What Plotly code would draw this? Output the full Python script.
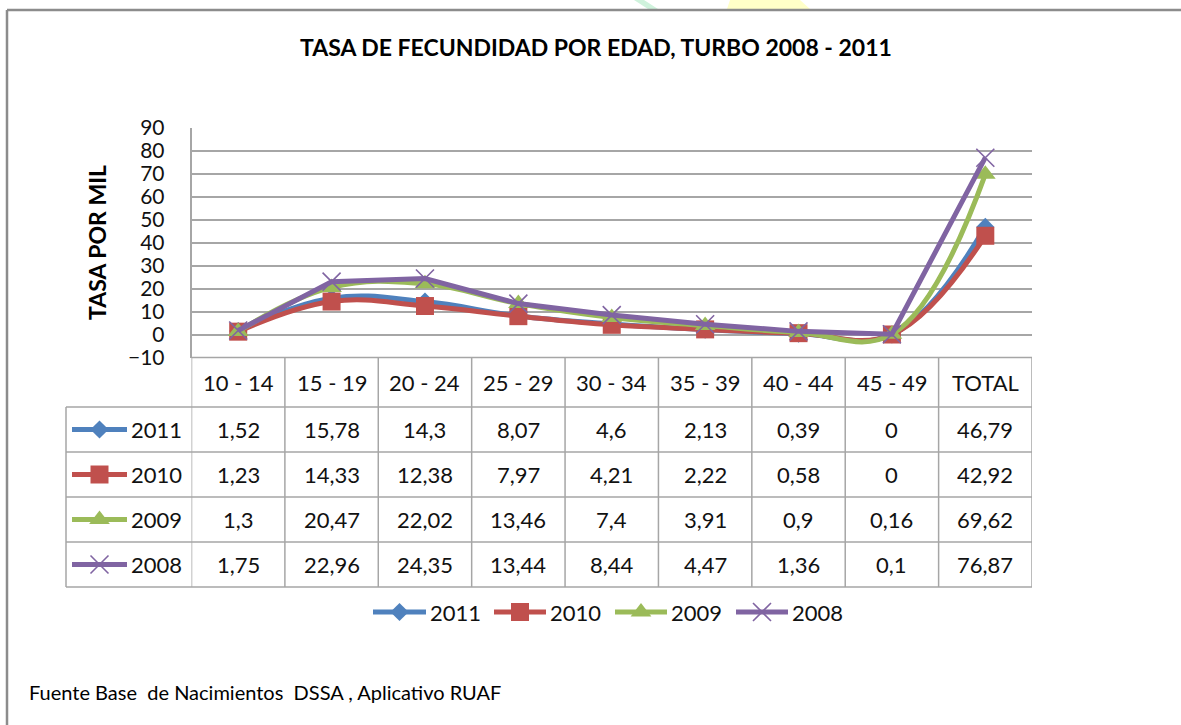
import plotly.graph_objects as go

# ---- data ----
age_groups = ["10 - 14", "15 - 19", "20 - 24", "25 - 29", "30 - 34",
              "35 - 39", "40 - 44", "45 - 49", "TOTAL"]
years = ["2011", "2010", "2009", "2008"]
rate_2011 = [1.52, 15.78, 14.3, 8.07, 4.6, 2.13, 0.39, 0, 46.79]
rate_2010 = [1.23, 14.33, 12.38, 7.97, 4.21, 2.22, 0.58, 0, 42.92]
rate_2009 = [1.3, 20.47, 22.02, 13.46, 7.4, 3.91, 0.9, 0.16, 69.62]
rate_2008 = [1.75, 22.96, 24.35, 13.44, 8.44, 4.47, 1.36, 0.1, 76.87]
y_ticks = list(range(-10, 100, 10))

title_text = "TASA DE FECUNDIDAD POR EDAD, TURBO 2008 - 2011"
y_title = "TASA POR MIL"
source_text = "Fuente Base  de Nacimientos  DSSA , Aplicativo RUAF"

series = [rate_2011, rate_2010, rate_2009, rate_2008]

# ---- styling ----
W, H = 1181, 725
FONT = "Lato"
GRID = "#A6A6A6"
styles = {
    "2011": dict(color="#4F81BD", symbol="diamond", size=14, mline=None, shape="spline"),
    "2010": dict(color="#C0504D", symbol="square", size=18, mline=None, shape="spline"),
    "2009": dict(color="#9BBB59", symbol="triangle-up", size=18, mline=None, shape="spline"),
    "2008": dict(color="#8064A2", symbol="x-thin-open", size=18, mline="#A898CC", shape="linear"),
}

# plot-area and table geometry (pixels)
PL, PR, PT, PB = 191.5, 1032.0, 127.5, 357.5
ROW_EDGES = [357.5, 407.0, 452.0, 497.0, 542.0, 587.0]
TABLE_LEFT = 66.0


def px(x):
    return x / W


def py(y):
    return 1 - y / H


def marker_style(st):
    m = dict(symbol=st["symbol"], size=st["size"], color=st["color"])
    if st["mline"]:
        m["line"] = dict(color=st["mline"], width=1.6)
    else:
        m["line"] = dict(color=st["color"], width=0)
    return m


fig = go.Figure()

# ---- rate lines ----
for yr, vals in zip(years, series):
    st = styles[yr]
    line = dict(color=st["color"], width=5, shape=st["shape"])
    if st["shape"] == "spline":
        line["smoothing"] = 1.15
    fig.add_trace(go.Scatter(
        x=age_groups, y=vals, name=yr, mode="lines+markers",
        line=line, marker=marker_style(st), showlegend=False, cliponaxis=False,
    ))


# ---- legend keys (table rows and bottom legend) on a pixel overlay ----
def add_key(yr, x0, x1, yc):
    st = styles[yr]
    xm = (x0 + x1) / 2
    fig.add_trace(go.Scatter(
        x=[x0, x1], y=[yc, yc], mode="lines", xaxis="x2", yaxis="y2",
        line=dict(color=st["color"], width=5), showlegend=False,
        hoverinfo="skip",
    ))
    fig.add_trace(go.Scatter(
        x=[xm], y=[yc], mode="markers", xaxis="x2", yaxis="y2",
        marker=marker_style(st), showlegend=False, hoverinfo="skip",
    ))


row_centers = [(ROW_EDGES[i] + ROW_EDGES[i + 1]) / 2 for i in range(len(ROW_EDGES) - 1)]
annotations = []
TXT = dict(family=FONT, size=22, color="#111111")

for i, yr in enumerate(years):
    yc = row_centers[i + 1]
    add_key(yr, 72, 127, yc)
    annotations.append(dict(
        text=yr, x=px(129), y=py(yc), xref="paper", yref="paper",
        xanchor="left", yanchor="middle", showarrow=False, font=TXT,
    ))

legend_keys = [(373, 426), (494, 546), (615, 667), (736, 788)]
LEG_Y = 612
for yr, (x0, x1) in zip(years, legend_keys):
    add_key(yr, x0, x1, LEG_Y)
    annotations.append(dict(
        text=yr, x=px(x1 + 2), y=py(LEG_Y), xref="paper", yref="paper",
        xanchor="left", yanchor="middle", showarrow=False, font=TXT,
    ))

# ---- table text ----
for j, cat in enumerate(age_groups):
    annotations.append(dict(
        text=cat, x=cat, y=py(row_centers[0]), xref="x", yref="paper",
        xanchor="center", yanchor="middle", showarrow=False, font=TXT,
    ))
for i, vals in enumerate(series):
    for j, v in enumerate(vals):
        label = f"{v:g}".replace(".", ",")
        annotations.append(dict(
            text=label, x=age_groups[j], y=py(row_centers[i + 1]),
            xref="x", yref="paper", xanchor="center", yanchor="middle",
            showarrow=False, font=TXT,
        ))

# titles and source
annotations.append(dict(
    text=f"<b>{title_text}</b>", x=px(596), y=py(47), xref="paper", yref="paper",
    xanchor="center", yanchor="middle", showarrow=False,
    font=dict(family=FONT, size=23, color="#000000"),
))
annotations.append(dict(
    text=f"<b>{y_title}</b>", x=px(97), y=py(243), xref="paper", yref="paper",
    xanchor="center", yanchor="middle", showarrow=False, textangle=-90,
    font=dict(family=FONT, size=23, color="#000000"),
))
annotations.append(dict(
    text=source_text, x=px(27), y=py(692), xref="paper", yref="paper",
    xanchor="left", yanchor="middle", showarrow=False,
    font=dict(family=FONT, size=20, color="#000000"),
))

# ---- table grid lines ----
shapes = []
line_style = dict(color=GRID, width=1.5)
for k, ye in enumerate(ROW_EDGES):
    x0 = PL if k == 0 else TABLE_LEFT
    shapes.append(dict(type="line", xref="paper", yref="paper",
                       x0=px(x0), x1=px(PR), y0=py(ye), y1=py(ye), line=line_style))
for j in range(len(age_groups) + 1):
    shapes.append(dict(type="line", xref="x", yref="paper",
                       x0=j - 0.5, x1=j - 0.5, y0=py(ROW_EDGES[0]), y1=py(ROW_EDGES[-1]),
                       line=line_style))
shapes.append(dict(type="line", xref="paper", yref="paper",
                   x0=px(TABLE_LEFT), x1=px(TABLE_LEFT),
                   y0=py(ROW_EDGES[1]), y1=py(ROW_EDGES[-1]), line=line_style))

# outer frame of the chart object
FRAME = "#8C8C8C"
shapes.append(dict(type="line", xref="paper", yref="paper",
                   x0=px(7), x1=1, y0=py(10), y1=py(10), line=dict(color=FRAME, width=2.5)))
shapes.append(dict(type="line", xref="paper", yref="paper",
                   x0=px(7), x1=px(7), y0=py(10), y1=0, line=dict(color=FRAME, width=2.5)))

# page decorations peeking above the frame
shapes.append(dict(type="path", xref="paper", yref="paper", layer="below",
                   path=f"M {px(634)},{py(0)} L {px(644)},{py(0)} L {px(658)},{py(9)} L {px(648)},{py(9)} Z",
                   fillcolor="#CFF2DC", line=dict(width=0)))
shapes.append(dict(type="path", xref="paper", yref="paper", layer="below",
                   path=f"M {px(730)},{py(0)} L {px(800)},{py(0)} L {px(810)},{py(9)} L {px(727)},{py(9)} Z",
                   fillcolor="#FFFFC8", line=dict(width=0)))

fig.update_layout(
    template="none",
    width=W, height=H, autosize=False,
    margin=dict(l=0, r=0, t=0, b=0, pad=0, autoexpand=False),
    paper_bgcolor="white", plot_bgcolor="rgba(0,0,0,0)",
    font=dict(family=FONT, size=22, color="#111111"),
    xaxis=dict(
        domain=[px(PL), px(PR)], type="category", range=[-0.5, 8.5],
        showticklabels=False, showgrid=False, zeroline=False, showline=False,
        ticks="", automargin=False, fixedrange=True,
    ),
    yaxis=dict(
        domain=[py(PB), py(PT)], range=[-10, 90], tickvals=y_ticks,
        showgrid=True, gridcolor=GRID, gridwidth=1.5,
        zeroline=True, zerolinecolor=GRID, zerolinewidth=1.5,
        showline=True, linecolor=GRID, linewidth=1.5,
        ticks="", ticklabelstandoff=21, automargin=False, fixedrange=True,
        tickfont=dict(family=FONT, size=21, color="#111111"),
    ),
    xaxis2=dict(domain=[0, 1], range=[0, W], visible=False, anchor="y2",
                automargin=False, fixedrange=True),
    yaxis2=dict(domain=[0, 1], range=[H, 0], visible=False, anchor="x2",
                automargin=False, fixedrange=True),
    shapes=shapes,
    annotations=annotations,
    showlegend=False,
)

fig.write_html("out.html")
